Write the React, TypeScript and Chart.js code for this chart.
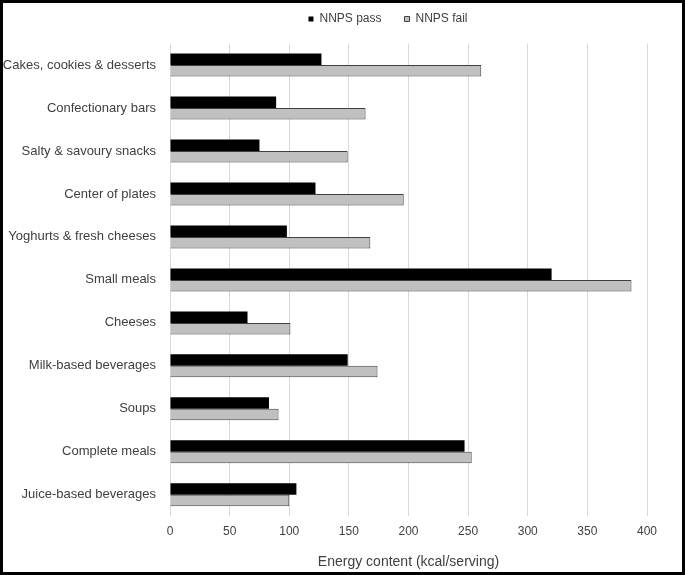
import React, { useEffect, useRef } from "react";
import { Chart, registerables } from "chart.js";
Chart.register(...registerables);

const categories = [
  "Cakes, cookies & desserts",
  "Confectionary bars",
  "Salty & savoury snacks",
  "Center of plates",
  "Yoghurts & fresh cheeses",
  "Small meals",
  "Cheeses",
  "Milk-based beverages",
  "Soups",
  "Complete meals",
  "Juice-based beverages",
];
const passValues = [127, 89, 75, 122, 98, 320, 65, 149, 83, 247, 106];
const failValues = [261, 164, 149, 196, 168, 387, 101, 174, 91, 253, 100];
const seriesNames = ["NNPS pass", "NNPS fail"];
const axisTitle = "Energy content (kcal/serving)";
const xMin = 0;
const xMax = 400;
const xStep = 50;

const FAMILY = "'Liberation Sans', Arial, sans-serif";

const legendTweak = {
  id: "legendTweak",
  beforeLayout(chart: any) {
    const lg = chart.legend;
    if (lg && !lg._patched) {
      const orig = lg.fit.bind(lg);
      lg.fit = function () {
        orig();
        this.height = 40.5;
      };
      lg._patched = true;
    }
  },
  afterLayout(chart: any) {
    const lg = chart.legend;
    if (lg) {
      lg.left += 126;
      lg.top -= 13;
    }
  },
};

export default function App() {
  const ref = useRef<HTMLCanvasElement>(null);
  useEffect(() => {
    document.body.style.margin = "0";
    const chart = new Chart(ref.current!, {
      type: "bar",
      data: {
        labels: categories,
        datasets: [
          {
            label: seriesNames[0],
            data: passValues,
            backgroundColor: "#000000",
            borderColor: "#000000",
            borderWidth: 0,
            categoryPercentage: 0.535,
            barPercentage: 1,
          },
          {
            label: seriesNames[1],
            data: failValues,
            backgroundColor: "#c0c0c0",
            borderColor: "#404040",
            borderWidth: 1,
            categoryPercentage: 0.535,
            barPercentage: 1,
          },
        ],
      },
      options: {
        indexAxis: "y",
        animation: false,
        responsive: false,
        layout: { padding: { left: 0, right: 35, top: 0, bottom: 1 } },
        plugins: {
          legend: {
            position: "top",
            align: "center",
            labels: {
              boxWidth: 5,
              boxHeight: 5,
              color: "#404040",
              font: { family: FAMILY, size: 12 },
              padding: 23,
            },
          },
          tooltip: { enabled: false },
        },
        scales: {
          x: {
            min: xMin,
            max: xMax,
            ticks: {
              stepSize: xStep,
              color: "#404040",
              font: { family: FAMILY, size: 12 },
              padding: 8.5,
            },
            grid: { color: "#d9d9d9", drawTicks: false },
            border: { display: false },
            title: {
              display: true,
              text: axisTitle,
              color: "#404040",
              font: { family: FAMILY, size: 14 },
              padding: { top: 6.5, bottom: 0 },
            },
          },
          y: {
            afterFit: (s: any) => {
              s.width = 167;
            },
            ticks: {
              color: "#404040",
              font: { family: FAMILY, size: 13 },
              padding: 14,
              autoSkip: false,
            },
            grid: { display: false, drawTicks: false },
            border: { display: false },
          },
        },
      },
      plugins: [legendTweak],
    });
    return () => chart.destroy();
  }, []);
  return (
    <div
      style={{
        position: "fixed",
        left: 0,
        top: 0,
        width: 685,
        height: 575,
        border: "3px solid #000",
        boxSizing: "border-box",
        background: "#fff",
      }}
    >
      <canvas ref={ref} width={679} height={569} style={{ display: "block" }} />
    </div>
  );
}
